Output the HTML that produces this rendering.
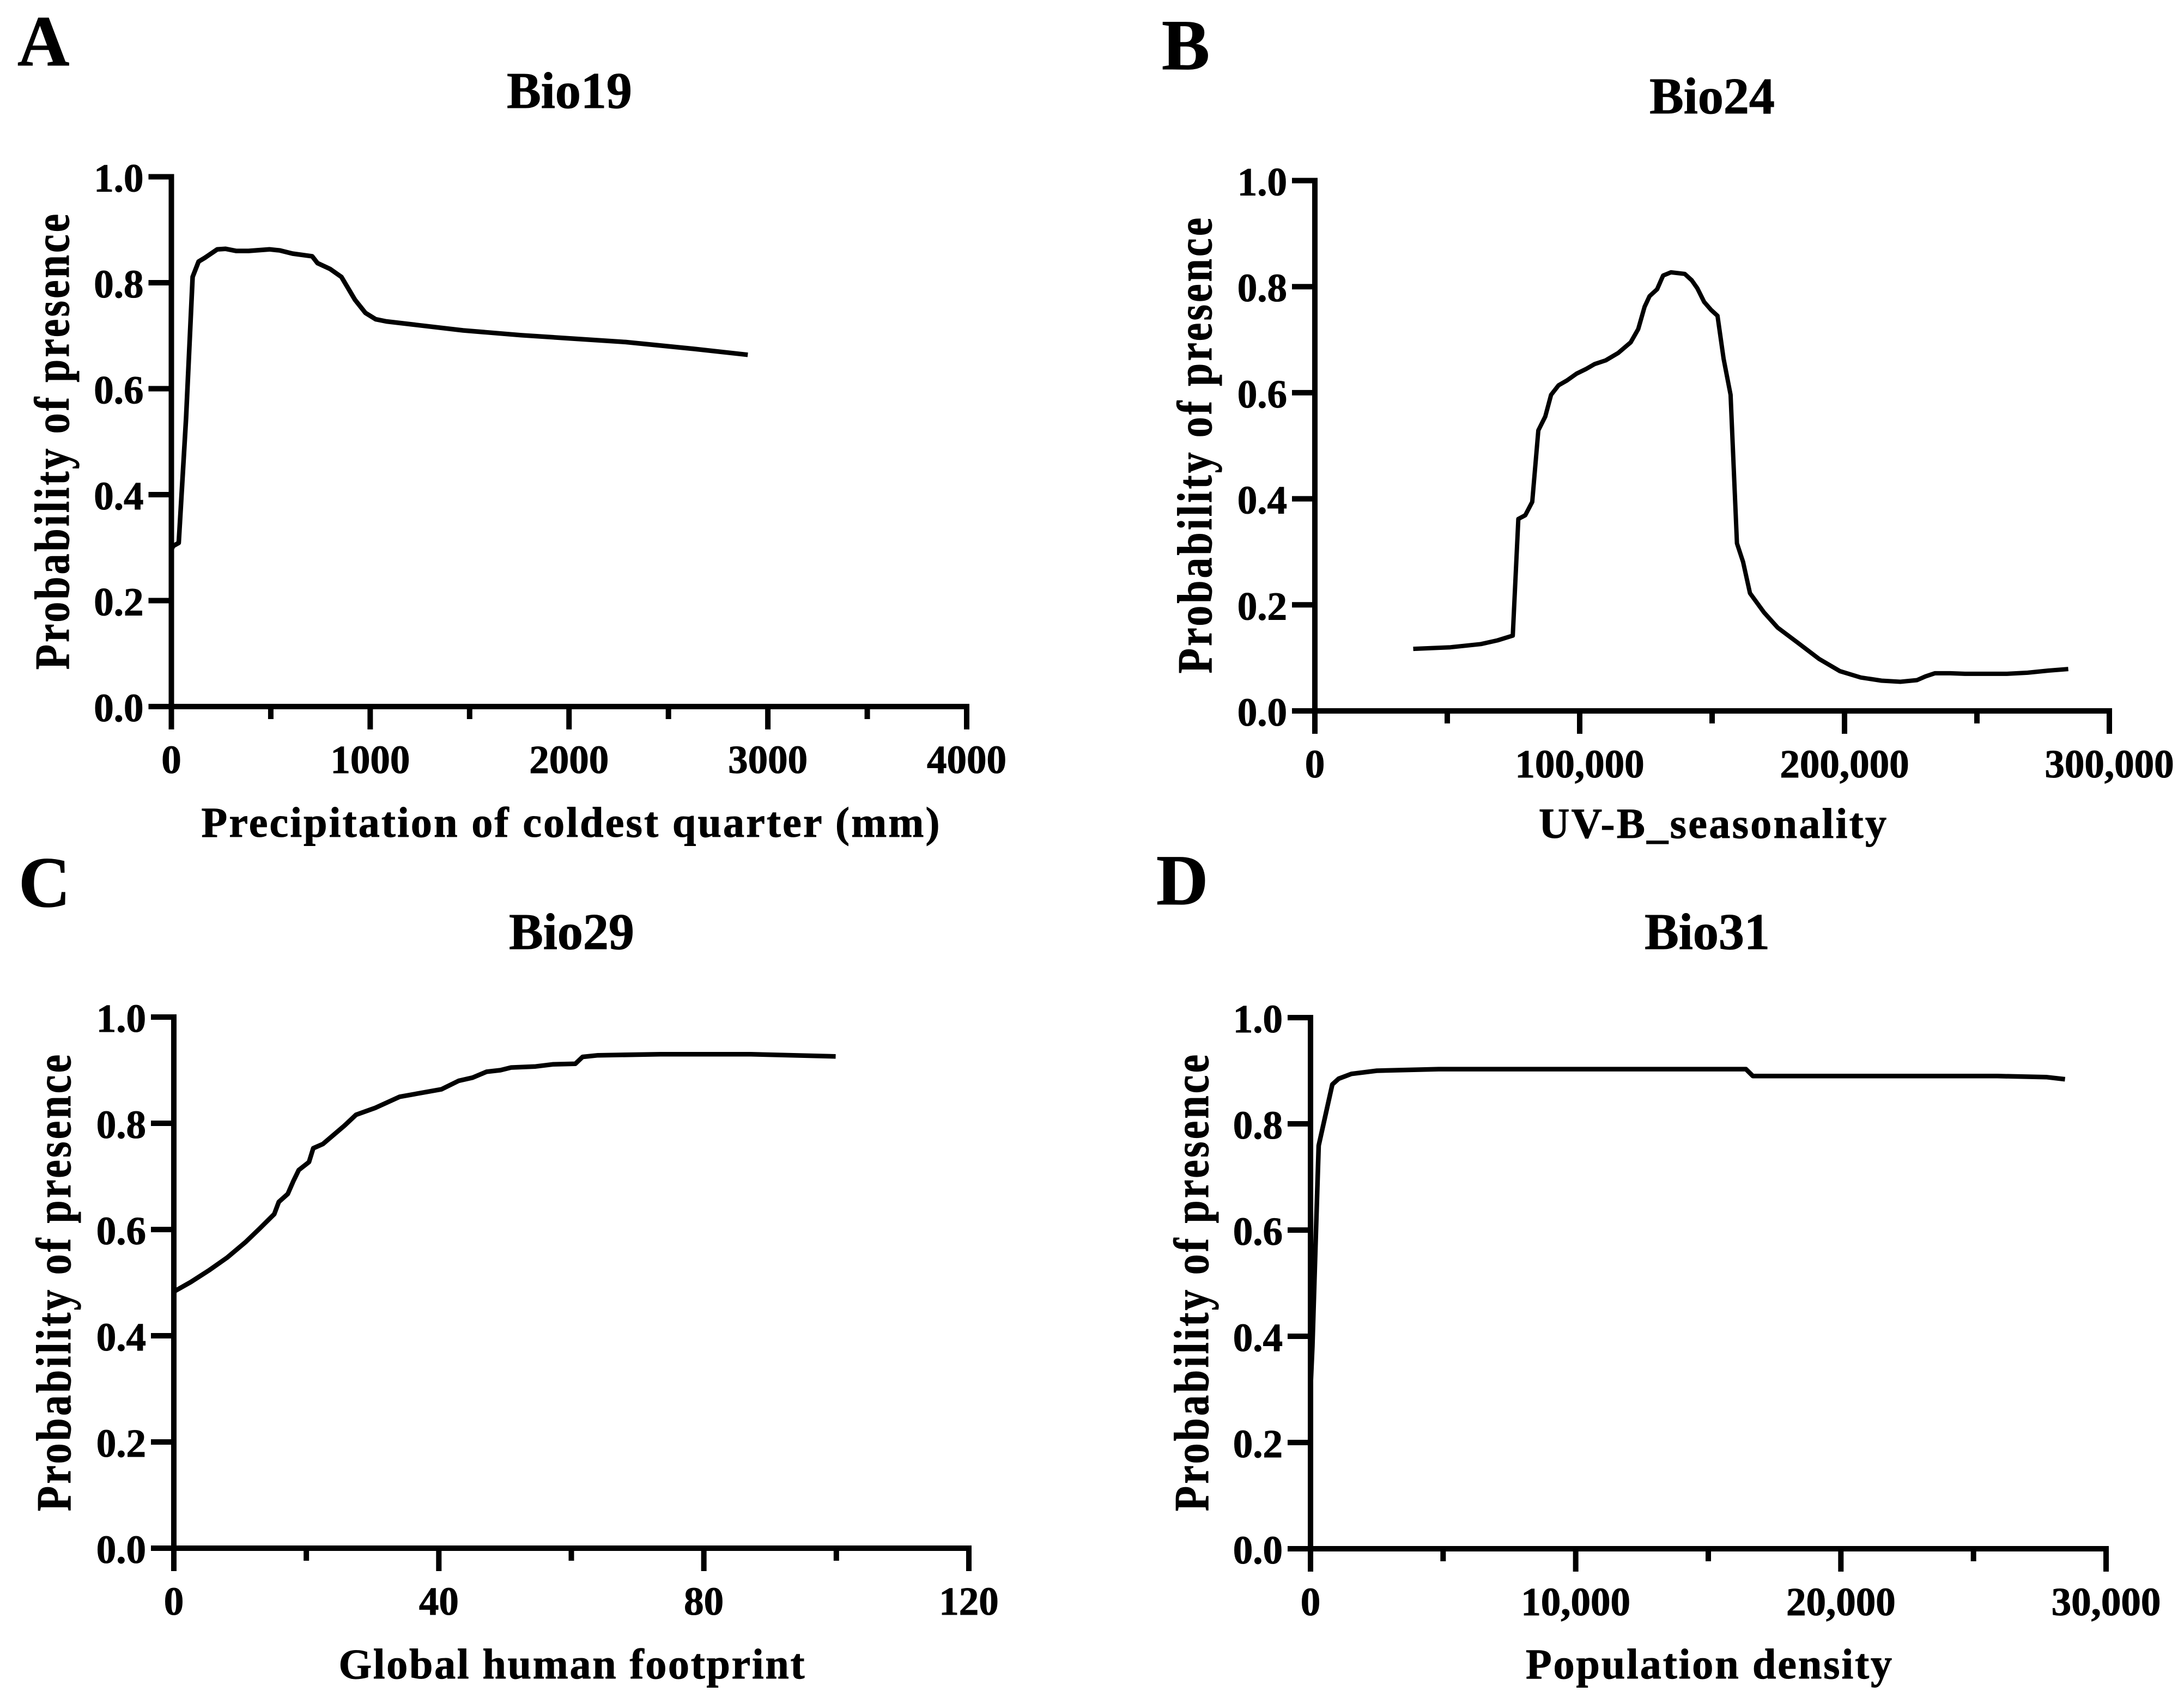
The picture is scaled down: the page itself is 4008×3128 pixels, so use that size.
<!DOCTYPE html>
<html lang="en">
<head>
<meta charset="utf-8">
<title>Probability of presence response curves</title>
<style>
  html, body { margin: 0; padding: 0; background: #fff; }
  svg { display: block; }
  text { font-family: "Liberation Serif", serif; font-weight: bold; fill: #000; stroke: #000; stroke-width: 1px; }
  .letter { font-size: 132px; }
  .title { font-size: 94px; text-anchor: middle; }
  .xlabel { font-size: 78px; text-anchor: middle; }
  .ylabel { font-size: 90px; text-anchor: middle; }
  .tick { font-size: 73px; }
</style>
</head>
<body>
<svg id="figure" xmlns="http://www.w3.org/2000/svg" width="4008" height="3128" viewBox="0 0 4008 3128">
  <rect x="0" y="0" width="4008" height="3128" fill="#fff"/>

  <g id="panel-a">
    <text class="letter" x="32" y="120">A</text>
    <text class="title" x="1045" y="198">Bio19</text>
    <text class="xlabel" x="1047" y="1536" textLength="1355" lengthAdjust="spacing">Precipitation of coldest quarter (mm)</text>
    <text class="ylabel" transform="translate(126 811) rotate(-90) scale(0.84 1)" textLength="996" lengthAdjust="spacing">Probability of presence</text>
  </g>

  <g id="panel-b">
    <text class="letter" x="2132" y="127">B</text>
    <text class="title" x="3142" y="208">Bio24</text>
    <text class="xlabel" x="3143" y="1538" textLength="638" lengthAdjust="spacing">UV-B_seasonality</text>
    <text class="ylabel" transform="translate(2223 818) rotate(-90) scale(0.84 1)" textLength="996" lengthAdjust="spacing">Probability of presence</text>
  </g>

  <g id="panel-c">
    <text class="letter" x="34" y="1664">C</text>
    <text class="title" x="1049" y="1742">Bio29</text>
    <text class="xlabel" x="1049" y="3081" textLength="855" lengthAdjust="spacing">Global human footprint</text>
    <text class="ylabel" transform="translate(129 2355) rotate(-90) scale(0.84 1)" textLength="998" lengthAdjust="spacing">Probability of presence</text>
  </g>

  <g id="panel-d">
    <text class="letter" x="2122" y="1660">D</text>
    <text class="title" x="3133" y="1742">Bio31</text>
    <text class="xlabel" x="3136" y="3081" textLength="672" lengthAdjust="spacing">Population density</text>
    <text class="ylabel" transform="translate(2217 2355) rotate(-90) scale(0.84 1)" textLength="998" lengthAdjust="spacing">Probability of presence</text>
  </g>
</svg>

<script>
// Shared y axis
const yTickValues = [0, 0.2, 0.4, 0.6, 0.8, 1.0];
const yTickLabels = ["0.0", "0.2", "0.4", "0.6", "0.8", "1.0"];

// Panel A: Bio19
const bio19XTicks = [0, 1000, 2000, 3000, 4000];
const bio19XTickLabels = ["0", "1000", "2000", "3000", "4000"];
const bio19XMinorTicks = [500, 1500, 2500, 3500];
const bio19X = [0, 9, 37, 74, 107, 137, 168, 231, 273, 325, 388, 493, 546, 609, 708, 735, 798, 855, 923, 976, 1028, 1081, 1467, 1759, 2000, 2284, 2633, 2899];
const bio19Y = [0.296, 0.303, 0.309, 0.545, 0.811, 0.840, 0.847, 0.863, 0.864, 0.860, 0.860, 0.863, 0.861, 0.855, 0.850, 0.837, 0.826, 0.811, 0.768, 0.743, 0.731, 0.727, 0.710, 0.701, 0.695, 0.688, 0.675, 0.664];

// Panel B: Bio24
const bio24XTicks = [0, 100000, 200000, 300000];
const bio24XTickLabels = ["0", "100,000", "200,000", "300,000"];
const bio24XMinorTicks = [50000, 150000, 250000];
const bio24X = [37150, 51170, 62690, 68980, 74740, 76830, 79450, 82070, 84380, 87000, 89200, 92020, 95170, 98830, 102500, 105640, 109830, 114540, 119260, 122090, 124500, 126380, 129210, 131510, 134450, 139680, 142300, 144400, 147020, 149630, 152040, 154350, 156970, 159380, 161680, 164300, 169540, 174780, 182510, 190390, 198250, 206130, 214000, 221090, 227370, 230560, 234100, 240000, 245500, 261250, 269140, 277000, 284480];
const bio24Y = [0.117, 0.120, 0.126, 0.133, 0.142, 0.362, 0.369, 0.394, 0.529, 0.555, 0.596, 0.614, 0.623, 0.636, 0.645, 0.654, 0.661, 0.675, 0.695, 0.720, 0.762, 0.782, 0.795, 0.821, 0.827, 0.824, 0.812, 0.797, 0.771, 0.756, 0.745, 0.664, 0.596, 0.316, 0.281, 0.222, 0.186, 0.157, 0.128, 0.098, 0.075, 0.063, 0.057, 0.055, 0.058, 0.065, 0.071, 0.071, 0.070, 0.070, 0.072, 0.076, 0.079];

// Panel C: Bio29
const bio29XTicks = [0, 40, 80, 120];
const bio29XTickLabels = ["0", "40", "80", "120"];
const bio29XMinorTicks = [20, 60, 100];
const bio29X = [0, 2.55, 5.29, 8.03, 10.8, 12.97, 15.16, 15.85, 17.2, 18.04, 18.86, 20.4, 21.05, 22.5, 25.7, 27.5, 30.4, 34.1, 40.4, 43, 45.1, 47.2, 49.3, 50.9, 54.6, 57.2, 60.6, 61.7, 64, 73.4, 87.1, 99.9];
const bio29Y = [0.483, 0.501, 0.523, 0.547, 0.576, 0.602, 0.629, 0.652, 0.667, 0.691, 0.712, 0.727, 0.753, 0.761, 0.795, 0.816, 0.829, 0.850, 0.864, 0.880, 0.886, 0.897, 0.900, 0.905, 0.907, 0.911, 0.912, 0.925, 0.928, 0.930, 0.930, 0.926];

// Panel D: Bio31
const bio31XTicks = [0, 10000, 20000, 30000];
const bio31XTickLabels = ["0", "10,000", "20,000", "30,000"];
const bio31XMinorTicks = [5000, 15000, 25000];
const bio31X = [0, 71, 205, 308, 822, 1062, 1541, 2500, 4830, 10105, 16420, 16680, 25900, 27740, 28450];
const bio31Y = [0.30, 0.381, 0.597, 0.759, 0.874, 0.885, 0.894, 0.900, 0.903, 0.903, 0.903, 0.890, 0.890, 0.888, 0.884];

const SVG_NS = "http://www.w3.org/2000/svg";

function makeEl(tag, parent, props) {
  const el = document.createElementNS(SVG_NS, tag);
  Object.keys(props).forEach(function (k) { el.setAttribute(k, props[k]); });
  parent.appendChild(el);
  return el;
}

function drawPanel(id, box, xTicks, xTickLabels, xMinorTicks, xs, ys, lineWidth) {
  const g = document.getElementById(id);
  const xMin = xTicks[0];
  const xMax = xTicks[xTicks.length - 1];
  const xScale = function (v) { return box.x0 + (v - xMin) / (xMax - xMin) * (box.x1 - box.x0); };
  const yScale = function (v) { return box.y0 + v * (box.y1 - box.y0); };
  const axisW = 10;
  const tickW = 10;

  // Y axis line, running down through the origin tick
  const yAxis = makeEl("line", g, { x1: box.x0, x2: box.x0, y1: yScale(1) - tickW / 2, y2: box.y0 + 42, stroke: "#000", "stroke-width": axisW });
  
  

  // X axis line, running left through the zero tick
  const xAxis = makeEl("line", g, { x1: box.x0 - 42, x2: box.x1 + axisW / 2, y1: box.y0, y2: box.y0, stroke: "#000", "stroke-width": axisW });
  
  

  yTickValues.forEach(function (v, i) {
    const t = makeEl("line", g, { x1: box.x0 - 42, x2: box.x0, y1: yScale(v), y2: yScale(v), stroke: "#000", "stroke-width": tickW });
    
    
    const lab = makeEl("text", g, { "class": "tick", x: box.x0 - 51, y: yScale(v) + 27, "text-anchor": "end" });
    lab.textContent = yTickLabels[i];
    
    
  });

  xTicks.forEach(function (v, i) {
    const t = makeEl("line", g, { x1: xScale(v), x2: xScale(v), y1: box.y0, y2: box.y0 + 42, stroke: "#000", "stroke-width": tickW });
    
    
    const lab = makeEl("text", g, { "class": "tick", x: xScale(v), y: box.y0 + 122, "text-anchor": "middle" });
    lab.textContent = xTickLabels[i];
    
    
  });

  xMinorTicks.forEach(function (v) {
    const t = makeEl("line", g, { x1: xScale(v), x2: xScale(v), y1: box.y0, y2: box.y0 + 23, stroke: "#000", "stroke-width": tickW });
    
    
  });

  const d = xs.map(function (v, i) {
    return (i === 0 ? "M" : "L") + xScale(v).toFixed(1) + " " + yScale(ys[i]).toFixed(1);
  }).join(" ");
  const curve = makeEl("path", g, { d: d, fill: "none", stroke: "#000", "stroke-width": lineWidth, "stroke-linejoin": "round", "stroke-linecap": "butt" });
  
  
}

drawPanel("panel-a", { x0: 314.5, x1: 1774, y0: 1297, y1: 324.5 }, bio19XTicks, bio19XTickLabels, bio19XMinorTicks, bio19X, bio19Y, 8.5);
drawPanel("panel-b", { x0: 2413, x1: 3871, y0: 1305, y1: 331.5 }, bio24XTicks, bio24XTickLabels, bio24XMinorTicks, bio24X, bio24Y, 8);
drawPanel("panel-c", { x0: 319, x1: 1778, y0: 2842, y1: 1867 }, bio29XTicks, bio29XTickLabels, bio29XMinorTicks, bio29X, bio29Y, 8.5);
drawPanel("panel-d", { x0: 2405, x1: 3865, y0: 2843, y1: 1868 }, bio31XTicks, bio31XTickLabels, bio31XMinorTicks, bio31X, bio31Y, 8.5);
</script>
</body>
</html>
